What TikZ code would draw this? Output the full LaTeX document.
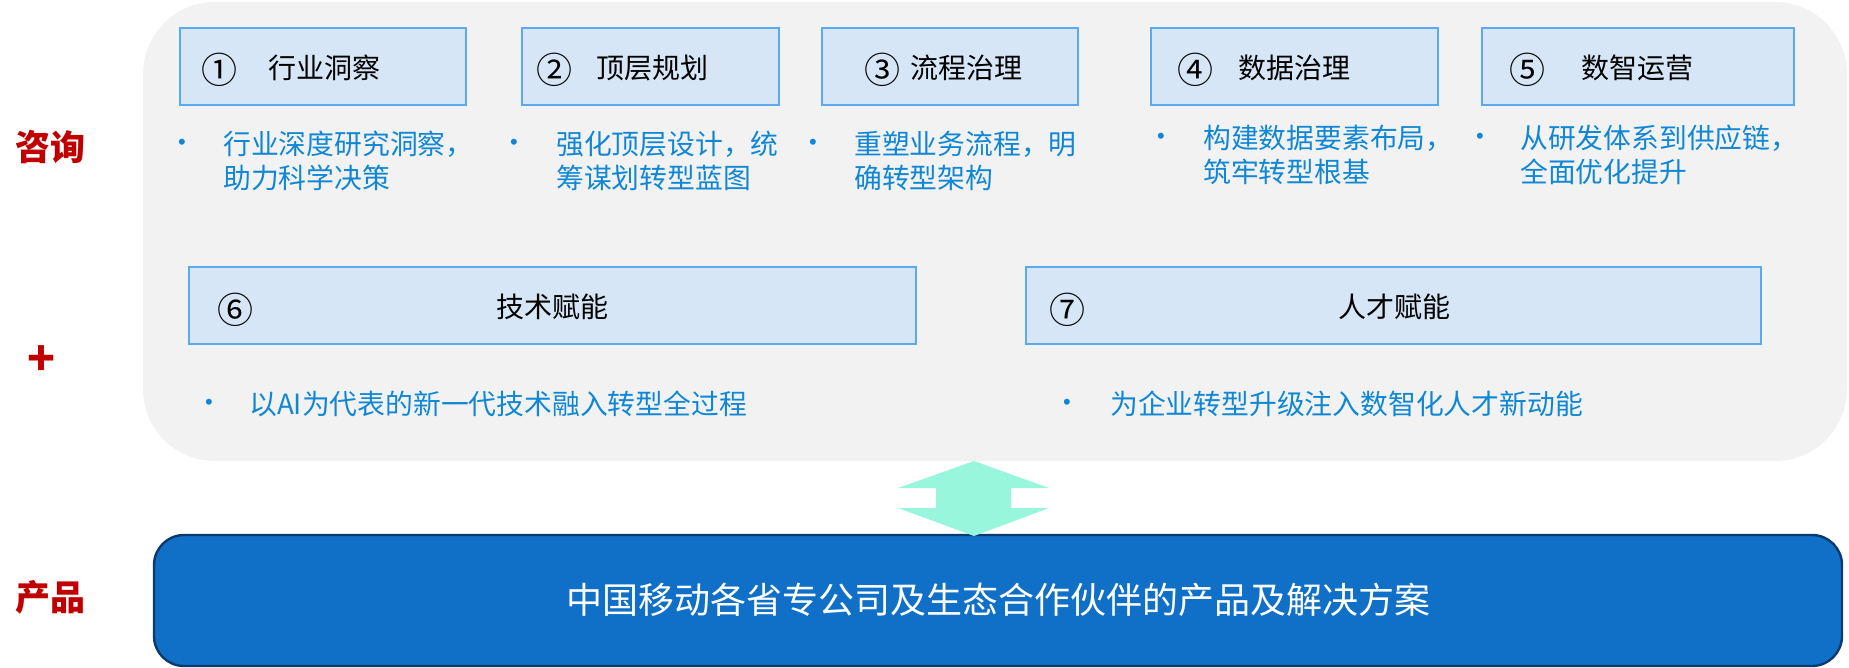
\documentclass[tikz,border=0pt]{standalone}
\usepackage{fontspec}
\setmainfont{Noto Sans CJK SC}
\newfontfamily\latinfont{Liberation Sans}
\definecolor{grayfill}{HTML}{F2F2F2}
\definecolor{boxfill}{HTML}{D6E6F6}
\definecolor{boxline}{HTML}{5AAAF0}
\definecolor{bultext}{HTML}{1087D5}
\definecolor{prodfill}{HTML}{106FC6}
\definecolor{prodline}{HTML}{0B3A6E}
\definecolor{redlabel}{HTML}{C00000}
\definecolor{arrowfill}{HTML}{97F6DB}
\begin{document}
\begin{tikzpicture}[x=1pt,y=-1pt,
  sidelabel/.style={text=redlabel, font=\fontsize{35}{40}\selectfont\bfseries, inner sep=0},
  panel/.style={fill=grayfill, rounded corners=72pt, inner sep=0},
  boxnode/.style={draw=boxline, fill=boxfill, line width=2.8pt, inner sep=0},
  numtext/.style={font=\fontsize{36}{40}\selectfont, inner sep=0, text=black},
  titletext/.style={font=\fontsize{28}{32}\selectfont, inner sep=0, anchor=west, text height=24.6pt, text depth=3.4pt, text=black},
  dotnode/.style={text=bultext, font=\latinfont\fontsize{22}{24}\selectfont, inner sep=0},
  bultxt/.style={text=bultext, font=\fontsize{27.8}{34}\selectfont, inner sep=0, anchor=base west},
  prodbox/.style={draw=prodline, fill=prodfill, line width=2.4pt, rounded corners=30pt, inner sep=0},
]
\useasboundingbox (0,0) rectangle (1849,667);

% side labels
\node[sidelabel] (zx) at (50,147) {咨询};
\node[sidelabel, font=\fontsize{46}{50}\selectfont\bfseries] (plus) at (42,361) {+};
\node[sidelabel] (cp) at (50,597) {产品};

% gray panel
\node[panel, minimum width=1704pt, minimum height=459pt] (panel) at (995,231.5) {};

% row 1 boxes
\node[boxnode, minimum width=286pt, minimum height=77pt] (b1) at (323,66.5) {};
\node[boxnode, minimum width=257pt, minimum height=77pt] (b2) at (650.5,66.5) {};
\node[boxnode, minimum width=256pt, minimum height=77pt] (b3) at (950,66.5) {};
\node[boxnode, minimum width=287pt, minimum height=77pt] (b4) at (1294.5,66.5) {};
\node[boxnode, minimum width=312pt, minimum height=77pt] (b5) at (1638,66.5) {};
% row 2 boxes
\node[boxnode, minimum width=727pt, minimum height=77pt] (b6) at (552.5,305.5) {};
\node[boxnode, minimum width=735pt, minimum height=77pt] (b7) at (1393.5,305.5) {};

% numbers and titles
\node[numtext] (n1) at (219,70) {①};
\node[titletext] (t1) at (268,68) {行业洞察};
\node[numtext] (n2) at (554,70) {②};
\node[titletext] (t2) at (596,68) {顶层规划};
\node[numtext] (n3) at (882,70) {③};
\node[titletext] (t3) at (910,68) {流程治理};
\node[numtext] (n4) at (1195,70) {④};
\node[titletext] (t4) at (1238,68) {数据治理};
\node[numtext] (n5) at (1527,70) {⑤};
\node[titletext] (t5) at (1581,68) {数智运营};
\node[numtext] (n6) at (235,310) {⑥};
\node[titletext] (t6) at (496,307) {技术赋能};
\node[numtext] (n7) at (1067,310) {⑦};
\node[titletext] (t7) at (1338,307) {人才赋能};

% bullets
\node[dotnode] (d1) at (182,144) {•};
\node[bultxt] (s1) at (223,154.5) {\parbox[t]{300pt}{\raggedright 行业深度研究洞察，\\助力科学决策}};
\node[dotnode] (d2) at (514,144) {•};
\node[bultxt] (s2) at (556,154.5) {\parbox[t]{300pt}{\raggedright 强化顶层设计，统\\筹谋划转型蓝图}};
\node[dotnode] (d3) at (813,144) {•};
\node[bultxt] (s3) at (854,154.5) {\parbox[t]{300pt}{\raggedright 重塑业务流程，明\\确转型架构}};
\node[dotnode] (d4) at (1161,138) {•};
\node[bultxt] (s4) at (1203,148.5) {\parbox[t]{300pt}{\raggedright 构建数据要素布局，\\筑牢转型根基}};
\node[dotnode] (d5) at (1480,138) {•};
\node[bultxt] (s5) at (1520,148.5) {\parbox[t]{330pt}{\raggedright 从研发体系到供应链，\\全面优化提升}};
\node[dotnode] (d6) at (209,404) {•};
\node[bultxt] (s6) at (249,414.5) {以AI为代表的新一代技术融入转型全过程};
\node[dotnode] (d7) at (1067,404) {•};
\node[bultxt] (s7) at (1110,414.5) {为企业转型升级注入数智化人才新动能};

% product box
\node[prodbox, minimum width=1688pt, minimum height=131pt] (prod) at (998,600.5) {};
\node[text=white, font=\fontsize{36}{40}\selectfont, inner sep=0] (prodtext) at (998,600) {中国移动各省专公司及生态合作伙伴的产品及解决方案};

% double arrow
\fill[arrowfill] (974,461) -- (1049,488) -- (1011,488) -- (1011,508) -- (1049,508) -- (974,536)
  -- (898,508) -- (936,508) -- (936,488) -- (898,488) -- cycle;
\end{tikzpicture}
\end{document}
